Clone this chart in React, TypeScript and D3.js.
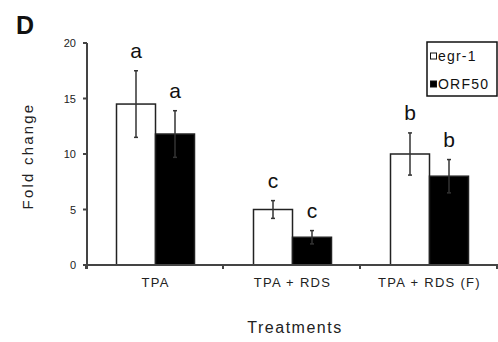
import * as d3 from "d3"

const groups = ["TPA", "TPA + RDS", "TPA + RDS (F)"]
const series = ["egr-1", "ORF50"]
const means = [
  [14.5, 11.8],
  [5.0, 2.5],
  [10.0, 8.0],
]
const errors = [
  [3.0, 2.1],
  [0.8, 0.6],
  [1.9, 1.5],
]
const letters = [
  ["a", "a"],
  ["c", "c"],
  ["b", "b"],
]
const yTicks = [0, 5, 10, 15, 20]

const W = 498
const H = 342
const FONT = "'Liberation Sans', Arial, sans-serif"
const fills = ["#ffffff", "#000000"]

export default function App() {
  const x = d3.scaleBand<string>().domain(groups).range([87, 498]).padding(0)
  const y = d3.scaleLinear().domain([0, 20]).range([265, 43])
  const barW = 39
  const sub = d3
    .scaleBand<string>()
    .domain(series)
    .range([-barW, barW])
    .padding(0)

  const bounds = [87, ...groups.map((g) => (x(g) ?? 0) + x.bandwidth())]

  return (
    <svg
      width={W}
      height={H}
      style={{ position: "absolute", left: 0, top: 0, background: "#fff" }}
      fontFamily={FONT}
    >
      <text x={16} y={34} fontSize={25} fontWeight="bold" fill="#111">
        D
      </text>

      {/* bars */}
      {groups.map((g, gi) => {
        const cx = (x(g) ?? 0) + x.bandwidth() / 2
        return (
          <g key={g}>
            {series.map((s, si) => {
              const bx = cx + (sub(s) ?? 0)
              const v = means[gi][si]
              const e = errors[gi][si]
              const mid = bx + sub.bandwidth() / 2
              const top = y(v + e)
              return (
                <g key={s}>
                  <rect
                    x={bx}
                    y={y(v)}
                    width={sub.bandwidth()}
                    height={y(0) - y(v)}
                    fill={fills[si]}
                    stroke="#222"
                    strokeWidth={1.5}
                  />
                  <line x1={mid} x2={mid} y1={y(v - e)} y2={top} stroke="#333" strokeWidth={1.5} />
                  <line x1={mid - 2} x2={mid + 2} y1={top} y2={top} stroke="#333" strokeWidth={1.5} />
                  <line
                    x1={mid - 2}
                    x2={mid + 2}
                    y1={y(v - e)}
                    y2={y(v - e)}
                    stroke="#333"
                    strokeWidth={1.5}
                  />
                  <text x={mid} y={top - 13} textAnchor="middle" fontSize={21} fill="#111">
                    {letters[gi][si]}
                  </text>
                </g>
              )
            })}
            <text
              x={cx}
              y={287}
              textAnchor="middle"
              fontSize={13}
              letterSpacing={1.3}
              fill="#222"
            >
              {g}
            </text>
          </g>
        )
      })}

      {/* y axis */}
      <line x1={87} x2={87} y1={y(20)} y2={y(0) + 4} stroke="#444" strokeWidth={2} />
      {yTicks.map((t) => (
        <g key={t}>
          <line x1={83} x2={87} y1={y(t)} y2={y(t)} stroke="#444" strokeWidth={2} />
          <text x={76} y={y(t) + 4} textAnchor="end" fontSize={11} fill="#222">
            {t}
          </text>
        </g>
      ))}

      {/* x axis */}
      <line x1={87} x2={498} y1={y(0)} y2={y(0)} stroke="#444" strokeWidth={2} />
      {bounds.map((b, i) => (
        <line key={i} x1={b - 1} x2={b - 1} y1={y(0)} y2={y(0) + 4} stroke="#444" strokeWidth={2} />
      ))}

      <text
        transform={`translate(33,156) rotate(-90)`}
        textAnchor="middle"
        fontSize={15}
        letterSpacing={2.2}
        fill="#222"
      >
        Fold change
      </text>
      <text
        x={295}
        y={333}
        textAnchor="middle"
        fontSize={16}
        letterSpacing={1.5}
        fill="#222"
      >
        Treatments
      </text>

      {/* legend */}
      <rect x={427} y={42} width={70} height={54} fill="#fff" stroke="#111" strokeWidth={1.5} />
      {series.map((s, i) => (
        <g key={s}>
          <rect
            x={430.5}
            y={53 + i * 28}
            width={6}
            height={6}
            fill={fills[i]}
            stroke="#111"
            strokeWidth={1}
          />
          <text x={438} y={61 + i * 28} fontSize={14} letterSpacing={1.2} fill="#111">
            {s}
          </text>
        </g>
      ))}
    </svg>
  )
}
